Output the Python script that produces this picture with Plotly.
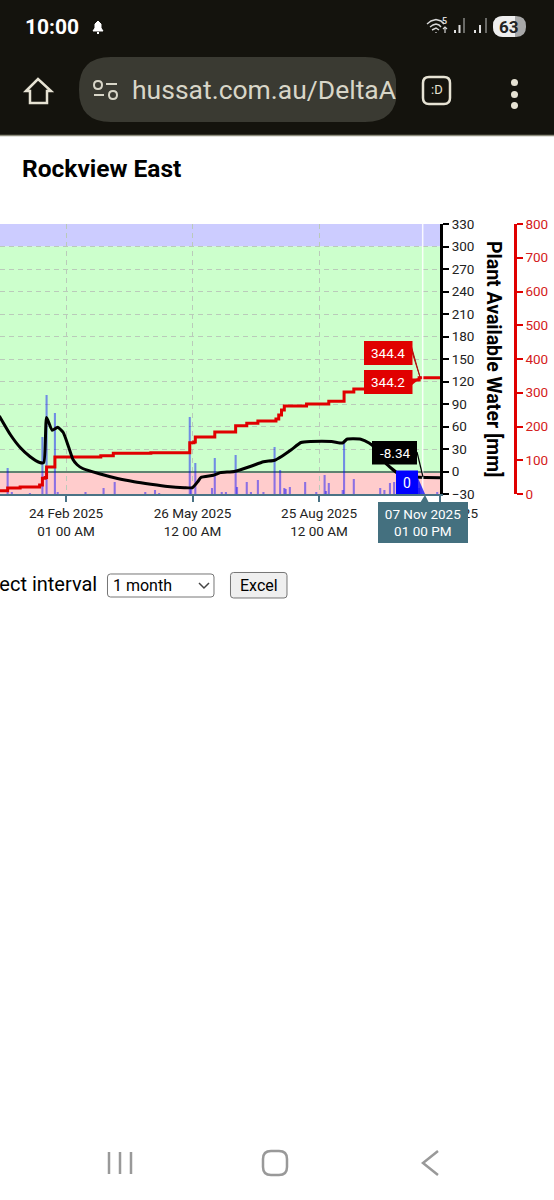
"""Rockview East soil water chart as seen on a phone browser page."""

import plotly.graph_objects as go

# Black line: plant available water [mm]
water_dates = ['2025-01-07', '2025-01-15', '2025-01-22', '2025-01-29', '2025-02-05', '2025-02-08',
               '2025-02-10', '2025-02-14', '2025-02-18', '2025-02-22', '2025-02-26', '2025-03-01',
               '2025-03-04', '2025-03-08', '2025-03-20', '2025-04-02', '2025-04-14', '2025-04-26',
               '2025-05-08', '2025-05-20', '2025-05-26', '2025-05-30', '2025-06-01', '2025-06-10',
               '2025-06-15', '2025-06-25', '2025-07-07', '2025-07-16', '2025-07-24', '2025-07-29',
               '2025-08-05', '2025-08-12', '2025-08-19', '2025-09-03', '2025-09-11', '2025-09-14',
               '2025-09-24', '2025-09-30', '2025-10-04', '2025-10-12', '2025-10-20', '2025-10-27',
               '2025-11-05', '2025-11-20']
water_mm = [74, 49, 32, 20, 12, 12,
            72, 55, 59, 52, 32, 16,
            9, 4, -3, -9.3, -13.6, -17,
            -20, -21.5, -21.5, -13, -8, -5,
            -1.5, 0, 7, 13, 15, 20,
            29, 38.7, 40, 40, 38, 43,
            43, 38, 32, 11, -1.5, -6,
            -7.8, -8.34]

# Red stepped line: cumulative rain [mm]
rain_total_dates = ['2025-01-07', '2025-01-13', '2025-01-22', '2025-02-05', '2025-02-07', '2025-02-09',
                    '2025-02-10', '2025-02-16', '2025-03-21', '2025-03-30', '2025-04-26', '2025-05-24',
                    '2025-05-27', '2025-05-28', '2025-06-11', '2025-06-26', '2025-07-04', '2025-07-12',
                    '2025-07-25', '2025-07-27', '2025-07-29', '2025-07-31', '2025-08-16', '2025-09-01',
                    '2025-09-12', '2025-09-19', '2025-09-28', '2025-10-12', '2025-10-30', '2025-11-05',
                    '2025-11-20']
rain_total_mm = [10, 18, 21, 27, 47, 49,
                 80, 110, 113, 121, 122, 152,
                 154, 169, 184, 202, 210, 216,
                 222, 234, 249, 261, 267, 275,
                 302, 311, 318, 330, 338, 344.4,
                 344.4]

# Daily rain bars [mm], hidden axis
rain_dates = ['2025-01-13', '2025-01-16', '2025-01-29', '2025-02-07', '2025-02-10', '2025-02-16',
              '2025-02-18', '2025-03-10', '2025-03-23', '2025-03-31', '2025-04-22', '2025-04-29',
              '2025-05-02', '2025-05-24', '2025-05-25', '2025-05-28', '2025-06-09', '2025-06-11',
              '2025-06-16', '2025-06-19', '2025-06-26', '2025-06-27', '2025-07-04', '2025-07-07',
              '2025-07-12', '2025-07-16', '2025-07-24', '2025-07-28', '2025-07-31', '2025-08-01',
              '2025-08-04', '2025-08-15', '2025-08-23', '2025-08-29', '2025-08-30', '2025-09-01',
              '2025-09-11', '2025-09-12', '2025-09-19', '2025-10-08', '2025-10-11', '2025-10-15',
              '2025-10-18', '2025-11-05', '2025-11-18']
rain_mm = [26, 2, 1, 57, 99, 81,
           2, 2, 6, 12, 2, 4,
           1, 77, 6, 31, 6, 36,
           2, 2, 39, 7, 12, 2,
           14, 2, 47, 24, 6, 5,
           7, 12, 2, 19, 3, 11,
           4, 52, 15, 6, 4, 11,
           12, 6, 2]

water_ticks = [-30, 0, 30, 60, 90, 120, 150, 180, 210, 240, 270, 300, 330]
rain_total_ticks = [0, 100, 200, 300, 400, 500, 600, 700, 800]
date_ticks = ['2025-02-24', '2025-05-26', '2025-08-25', '2025-11-20']
date_tick_labels = ['24 Feb 2025<br>01 00 AM', '26 May 2025<br>12 00 AM', '25 Aug 2025<br>12 00 AM', '20 Nov 2025<br> ']

cursor_date = '2025-11-07 13:00'
cursor_label = '07 Nov 2025<br>01 00 PM'
label_total_a = '344.4'
label_total_b = '344.2'
label_water = '-8.34'
label_rain = '0'

W, H = 554, 1200
FONT = 'Roboto'
DARK = '#14130d'
RED = '#e00000'
SLATE = '#44707f'
GRID = '#bacaba'


def px(x):
    return x / W


def py(y):
    return 1 - y / H


def path(points, fill=None, line=None, width=1, close=True):
    """Shape from pixel points on the page."""
    d = 'M' + ' L'.join(f'{px(x):.5f},{py(y):.5f}' for x, y in points) + (' Z' if close else '')
    return dict(type='path', xref='paper', yref='paper', path=d, fillcolor=fill or 'rgba(0,0,0,0)',
                line=dict(color=line or 'rgba(0,0,0,0)', width=width), layer='above')


def rounded(x0, y0, x1, y1, r, fill=None, line=None, width=1):
    """Rounded rectangle from pixel corners."""
    def p(x, y):
        return f'{px(x):.5f},{py(y):.5f}'
    d = (f'M{p(x0 + r, y0)} L{p(x1 - r, y0)} Q{p(x1, y0)} {p(x1, y0 + r)} '
         f'L{p(x1, y1 - r)} Q{p(x1, y1)} {p(x1 - r, y1)} L{p(x0 + r, y1)} '
         f'Q{p(x0, y1)} {p(x0, y1 - r)} L{p(x0, y0 + r)} Q{p(x0, y0)} {p(x0 + r, y0)} Z')
    return dict(type='path', xref='paper', yref='paper', path=d, fillcolor=fill or 'rgba(0,0,0,0)',
                line=dict(color=line or 'rgba(0,0,0,0)', width=width), layer='above')


def note(text, x, y, size, color='black', anchor='left', **kw):
    return dict(text=text, x=px(x), y=py(y), xref='paper', yref='paper', showarrow=False, xanchor=anchor,
                yanchor='middle', borderpad=0, borderwidth=0,
                font=dict(family=FONT, size=size, color=color), **kw)


fig = go.Figure()

fig.add_trace(go.Bar(x=rain_dates, y=rain_mm, width=1.3e8, yaxis='y',
                     marker=dict(color='blue', opacity=0.45, line_width=0), hoverinfo='skip'))
fig.add_trace(go.Scatter(x=rain_total_dates, y=rain_total_mm, yaxis='y2', mode='lines',
                         line=dict(color=RED, width=3, shape='hv'), hoverinfo='skip'))
fig.add_trace(go.Scatter(x=water_dates, y=water_mm, yaxis='y3', mode='lines',
                         line=dict(color='black', width=3, shape='spline', smoothing=0.5), hoverinfo='skip'))

shapes = [
    # background bands
    dict(type='rect', xref='x domain', yref='y3', x0=0, x1=1, y0=300, y1=330, fillcolor='#ccccff', line_width=0, layer='below'),
    dict(type='rect', xref='x domain', yref='y3', x0=0, x1=1, y0=0, y1=300, fillcolor='#ccffcc', line_width=0, layer='below'),
    dict(type='rect', xref='x domain', yref='y3', x0=0, x1=1, y0=-30, y1=0, fillcolor='#ffcccc', line_width=0, layer='below'),
    # cursor
    dict(type='line', xref='x', yref='y3', x0=cursor_date, x1=cursor_date, y0=-30, y1=330,
         line=dict(color='rgba(255,255,255,0.85)', width=1.5), layer='above'),
    # value flags
    path([(411, 345), (420, 377), (412, 352)], fill='#b01010', line='#b01010'),
    rounded(364, 341, 412.5, 365, 0.1, fill=RED),
    path([(412, 380), (422, 377), (412, 385)], fill=RED),
    rounded(364, 370, 412.5, 394, 0.1, fill=RED),
    path([(417, 452), (423, 477)], line='black', width=1.2, close=False),
    rounded(372, 441, 417, 464.5, 0.1, fill='black'),
    path([(418, 478), (425, 494), (418, 494)], fill='rgba(0,0,255,0.75)'),
    rounded(396, 470.5, 418, 494, 0.1, fill='blue'),
    path([(420, 503), (425, 495), (429, 503)], fill=SLATE),
    # browser chrome
    dict(type='rect', xref='paper', yref='paper', x0=0, x1=1, y0=py(135), y1=1, fillcolor=DARK, line_width=0, layer='above'),
    dict(type='line', xref='paper', yref='paper', x0=0, x1=1, y0=py(135.5), y1=py(135.5),
         line=dict(color='#8c8c7c', width=1.5), layer='above'),
    rounded(79, 57, 397, 122, 32, fill='#3a3a32'),
    # home icon
    path([(26, 91), (38, 79), (51, 91), (47, 91), (47, 103), (30, 103), (30, 91)], line='#e6e2d3', width=2.5),
    # site settings icon
    path([(106, 84), (117, 84)], line='#d8d6c8', width=2, close=False),
    path([(94, 95), (104, 95)], line='#d8d6c8', width=2, close=False),
    rounded(94, 81, 102, 89, 4, line='#d8d6c8', width=2),
    rounded(109, 91, 117, 99, 4, line='#d8d6c8', width=2),
    # tab button
    rounded(423, 77, 450, 104, 6, line='#e6e2d3', width=2.5),
    # menu dots
    rounded(511, 79, 518, 86, 3.5, fill='#e6e2d3'),
    rounded(511, 91, 518, 98, 3.5, fill='#e6e2d3'),
    rounded(511, 102, 518, 109, 3.5, fill='#e6e2d3'),
    # bell
    path([(93, 31), (95, 28), (95, 24), (98, 21), (101, 24), (101, 28), (103, 31)], fill='white', line='white'),
    path([(97, 33), (99, 33)], line='white', width=2, close=False),
    # wifi
    path([(427, 24), (431, 21), (436, 19.5), (441, 21), (444, 24)], line='#d8d8d8', width=1.5, close=False),
    path([(430, 27), (433, 25), (436, 24), (439, 25), (441, 27)], line='#d8d8d8', width=1.5, close=False),
    path([(432, 30), (436, 28), (439, 30)], line='#d8d8d8', width=1.5, close=False),
    path([(436, 32), (436, 33)], line='#8a8a8a', width=2, close=False),
    path([(445, 33), (445, 27)], line='#d8d8d8', width=1.2, close=False),
    path([(443, 29), (445, 27), (447, 29)], line='#d8d8d8', width=1.2, close=False),
    # signal bars
    path([(455, 33), (455, 30)], line='#e0e0e0', width=2, close=False),
    path([(459.5, 33), (459.5, 25)], line='#e0e0e0', width=2, close=False),
    path([(464, 33), (464, 18)], line='#6a6a66', width=2, close=False),
    path([(475, 33), (475, 30)], line='#e0e0e0', width=2, close=False),
    path([(480, 33), (480, 25)], line='#e0e0e0', width=2, close=False),
    path([(486, 33), (486, 18)], line='#6a6a66', width=2, close=False),
    # battery
    rounded(493, 16, 526, 37, 10, fill='#a8a8a8'),
    rounded(493, 16, 515, 37, 10, fill='#eeeeee'),
    path([(505, 16), (515, 16), (515, 37), (505, 37)], fill='#eeeeee'),
    # form controls
    rounded(107.5, 574, 214, 597, 3, fill='white', line='#767676'),
    path([(199, 583), (204, 588), (209, 583)], line='#444444', width=1.5, close=False),
    rounded(230.5, 572.5, 287, 598, 3, fill='#efefef', line='#767676'),
    # phone nav bar
    path([(109, 1152), (109, 1174)], line='#999999', width=2.5, close=False),
    path([(120, 1152), (120, 1174)], line='#999999', width=2.5, close=False),
    path([(131, 1152), (131, 1174)], line='#999999', width=2.5, close=False),
    rounded(263, 1151, 287, 1175, 8, line='#999999', width=2.5),
    path([(438, 1151), (423, 1163), (438, 1175)], line='#999999', width=2.5, close=False),
]

annotations = [
    note('<b>10:00</b>', 25, 27, 21, 'white'),
    note('hussat.com.au/DeltaA', 132, 90, 26.5, '#d8d6c8'),
    # masks the end of the address where the pill stops
    note(' ', 396, 90, 25, bgcolor=DARK, width=20, height=30),
    note(':D', 436.5, 90, 13, '#e6e2d3', anchor='center'),
    note('<b>63</b>', 509, 27, 17, '#222222', anchor='center'),
    note('<b>5</b>', 444, 21, 9, '#d8d8d8', anchor='center'),
    note('<b>Rockview East</b>', 22, 168, 24.5),
    note('<b>Plant Available Water [mm]</b>', 494, 359, 19.5, textangle=90, anchor='center'),
    note('Select interval', 97, 584, 20, anchor='right'),
    note('1 month', 113, 585.5, 16),
    note('Excel', 258.5, 585, 16, anchor='center'),
    # value flags
    note(label_total_a, 388, 353, 13.5, 'white', anchor='center'),
    note(label_total_b, 388, 382, 13.5, 'white', anchor='center'),
    note(label_water, 394.5, 453, 13.5, 'white', anchor='center'),
    note(label_rain, 407, 482.5, 14, 'white', anchor='center'),
    # cursor date box sits on top of the last tick label
    note(cursor_label, 378, 522.5, 13.5, 'white', bgcolor=SLATE, width=90, height=41),
]

fig.update_layout(
    width=W, height=H, margin=dict(l=0, r=0, t=0, b=0, autoexpand=False),
    paper_bgcolor='white', plot_bgcolor='rgba(0,0,0,0)', showlegend=False,
    font=dict(family=FONT, size=13.5, color='black'),
    shapes=shapes, annotations=annotations,
    xaxis=dict(type='date', domain=[0, px(440)], range=['2025-01-07 12:00', '2025-11-20 00:00'],
               tickmode='array', tickvals=date_ticks, ticktext=date_tick_labels, ticks='outside',
               ticklen=6, tickwidth=2, tickcolor='#4a7386', showline=True, linecolor='#4a7386', linewidth=2,
               showgrid=True, gridcolor=GRID, griddash='5px,4px', gridwidth=1,
               tickfont=dict(size=13.5, color='#222222'), zeroline=False, automargin=False),
    yaxis=dict(domain=[py(494), py(224)], range=[0, 270], visible=False, showgrid=False, fixedrange=True),
    yaxis2=dict(domain=[py(494), py(224)], range=[0, 800], overlaying='y', side='right', anchor='free',
                position=px(515), tickmode='array', tickvals=rain_total_ticks, ticks='outside', ticklen=6,
                tickwidth=2, tickcolor=RED, showline=True, linecolor=RED, linewidth=2.5, showgrid=False,
                zeroline=False, tickfont=dict(size=13.5, color='#d42020'), automargin=False),
    yaxis3=dict(domain=[py(494), py(224)], range=[-30, 330], overlaying='y', side='right', anchor='x',
                tickmode='array', tickvals=water_ticks, ticks='outside', ticklen=6, tickwidth=2,
                tickcolor='black', showline=True, linecolor='black', linewidth=3, showgrid=True,
                gridcolor=GRID, griddash='5px,4px', gridwidth=1, zeroline=True, zerolinecolor='#5f8270',
                zerolinewidth=1.5, tickfont=dict(size=13.5, color='#222222'), automargin=False),
)

fig.write_html('out.html', config=dict(displayModeBar=False),
               post_script="document.body.style.margin='0';document.body.style.overflow='hidden';")
